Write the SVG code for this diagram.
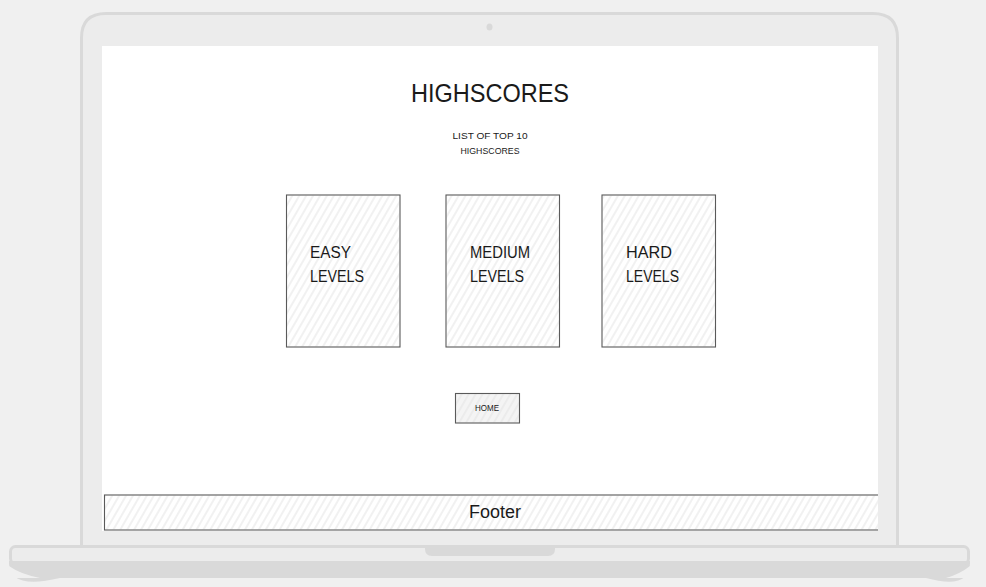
<svg xmlns="http://www.w3.org/2000/svg" width="986" height="587" viewBox="0 0 986 587">
  <defs>
    <pattern id="hatch" patternUnits="userSpaceOnUse" width="6" height="6" patternTransform="rotate(30)">
      <line x1="3" y1="-1" x2="3" y2="7" stroke="#e3e3e3" stroke-width="1"/>
    </pattern>
    <clipPath id="screenClip">
      <rect x="102" y="46" width="776" height="490"/>
    </clipPath>
  </defs>
  <style>
    .hand { font-family: "Liberation Sans", "DejaVu Sans", sans-serif; fill: #1a1a1a; }
    .card { fill: #ffffff; stroke: none; }
    .edge { fill: none; stroke: #5a5a5a; stroke-width: 1.1; }
    .hatched { fill: url(#hatch); }
    .label { font-size: 16px; }
    .small { font-size: 9px; }
  </style>

  <!-- backdrop -->
  <rect x="0" y="0" width="986" height="587" fill="#f0f0f0"/>

  <!-- laptop lid and base -->
  <g id="laptop">
    <path d="M81.5,545 V38 Q81.5,13.5 106,13.5 H873 Q897.5,13.5 897.5,38 V545" fill="#ececec" stroke="#d9d9d9" stroke-width="3"/>
    <ellipse cx="489.5" cy="27" rx="3" ry="3.5" fill="#d9d9d9"/>
    <rect x="102" y="46" width="776" height="485" fill="#ffffff"/>
    <path d="M9,563 Q9,590 60,578 H926 Q970,590 970,563 Z" fill="#d9d9d9"/>
    <path d="M9,578 H40 Q20,574 9,566 Z" fill="#f0f0f0"/>
    <path d="M946,578 H970 V566 Q960,574 946,578 Z" fill="#f0f0f0"/>
    <rect x="10.5" y="546.5" width="958" height="17" rx="5" fill="#ececec" stroke="#d9d9d9" stroke-width="3"/>
    <rect x="9" y="561" width="961" height="3" fill="#d9d9d9"/>
    <path d="M425,545 H555 V549 Q555,556 548,556 H432 Q425,556 425,549 Z" fill="#d9d9d9"/>
  </g>

  <!-- page heading -->
  <g id="title">
    <text class="hand" x="490" y="102" font-size="26" text-anchor="middle" textLength="158" lengthAdjust="spacingAndGlyphs">HIGHSCORES</text>
  </g>
  <g id="subtitle">
    <text class="hand small" x="490" y="139" text-anchor="middle" textLength="75" lengthAdjust="spacingAndGlyphs">LIST OF TOP 10</text>
    <text class="hand small" x="490" y="154" text-anchor="middle" textLength="59" lengthAdjust="spacingAndGlyphs">HIGHSCORES</text>
  </g>

  <!-- score panels -->
  <g id="easy">
    <rect class="card" x="286.5" y="195" width="113.5" height="152"/>
    <rect class="hatched" x="287" y="195.5" width="112.5" height="151"/>
    <rect class="edge" x="286.5" y="195" width="113.5" height="152"/>
    <text class="hand label" x="310" y="258" textLength="41" lengthAdjust="spacingAndGlyphs">EASY</text>
    <text class="hand label" x="310" y="282" textLength="54" lengthAdjust="spacingAndGlyphs">LEVELS</text>
  </g>
  <g id="medium">
    <rect class="card" x="446" y="195" width="113.5" height="152"/>
    <rect class="hatched" x="446.5" y="195.5" width="112.5" height="151"/>
    <rect class="edge" x="446" y="195" width="113.5" height="152"/>
    <text class="hand label" x="470" y="258" textLength="60" lengthAdjust="spacingAndGlyphs">MEDIUM</text>
    <text class="hand label" x="470" y="282" textLength="54" lengthAdjust="spacingAndGlyphs">LEVELS</text>
  </g>
  <g id="hard">
    <rect class="card" x="602" y="195" width="113.5" height="152"/>
    <rect class="hatched" x="602.5" y="195.5" width="112.5" height="151"/>
    <rect class="edge" x="602" y="195" width="113.5" height="152"/>
    <text class="hand label" x="626" y="258" textLength="46" lengthAdjust="spacingAndGlyphs">HARD</text>
    <text class="hand label" x="626" y="282" textLength="53" lengthAdjust="spacingAndGlyphs">LEVELS</text>
  </g>

  <!-- home button -->
  <g id="home">
    <rect x="455.5" y="393.5" width="64" height="29.5" fill="#f4f4f4"/>
    <rect class="hatched" x="456" y="394" width="63" height="28.5"/>
    <rect class="edge" x="455.5" y="393.5" width="64" height="29.5"/>
    <text class="hand small" x="487" y="411" text-anchor="middle" textLength="24" lengthAdjust="spacingAndGlyphs">HOME</text>
  </g>

  <!-- footer bar, running off the right edge of the screen -->
  <g id="footer" clip-path="url(#screenClip)">
    <rect class="card" x="104.5" y="495" width="790" height="35"/>
    <rect class="hatched" x="105" y="495.5" width="789" height="34"/>
    <rect class="edge" x="104.5" y="495" width="790" height="35"/>
    <text class="hand" x="495" y="518" font-size="18" text-anchor="middle" textLength="52" lengthAdjust="spacingAndGlyphs">Footer</text>
  </g>
</svg>
